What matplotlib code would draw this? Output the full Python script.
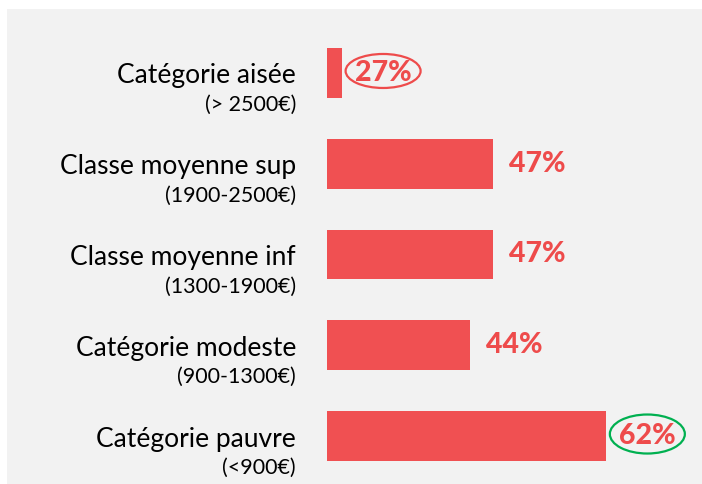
import matplotlib
matplotlib.use("Agg")
import matplotlib.pyplot as plt
from matplotlib.patches import Rectangle, Ellipse
from matplotlib.transforms import offset_copy

plt.rcParams['font.family'] = ['Lato', 'DejaVu Sans']

categories = ["Catégorie aisée", "Classe moyenne sup", "Classe moyenne inf",
              "Catégorie modeste", "Catégorie pauvre"]
income_ranges = ["(> 2500€)", "(1900-2500€)", "(1300-1900€)", "(900-1300€)", "(<900€)"]
values = [27, 47, 47, 44, 62]
circled = {0: "#EE4B4B", 4: "#00B050"}

bar_color = "#F05052"
text_red = "#EE4B4B"
bg = "#F2F2F2"

W, H = 702, 485
fig = plt.figure(figsize=(W / 100, H / 100), dpi=100)
fig.patch.set_facecolor("white")
fig.patches.append(Rectangle((7 / W, 0), 1 - 7 / W, 1 - 10 / H,
                             transform=fig.transFigure, facecolor=bg,
                             edgecolor="none", zorder=-10))

px_per_unit = 7.55
x0 = 25
ax_left, ax_right = 327, 700
ax_top, ax_bot = 28.6, 482.4
row_px = (ax_bot - ax_top) / len(values)
ax = fig.add_axes([ax_left / W, (H - ax_bot) / H, (ax_right - ax_left) / W,
                   (ax_bot - ax_top) / H])
ax.set_facecolor("none")
ax.set_xlim(x0, x0 + (ax_right - ax_left) / px_per_unit)
ax.set_ylim(len(values) - 0.5, -0.5)
ax.axis("off")

ypos = list(range(len(values)))
ax.barh(ypos, values, height=0.55, color=bar_color)

for i, (cat, rng, v) in enumerate(zip(categories, income_ranges, values)):
    ax.annotate(cat, xy=(x0, i), xytext=(-31, -2), textcoords="offset pixels",
                ha="right", va="center", fontsize=19, color="black",
                annotation_clip=False)
    ax.annotate(rng, xy=(x0, i), xytext=(-31, -31), textcoords="offset pixels",
                ha="right", va="center", fontsize=15.5, color="black",
                annotation_clip=False)
    if i in circled:
        # value label sits inside a hand-drawn style ellipse
        tr = offset_copy(ax.transData, fig=fig, x=41, y=2, units="dots")
        ax.add_patch(Ellipse((v, i), 75 / px_per_unit, (34 if i == 0 else 39) / row_px,
                             transform=tr, fc="none", ec=circled[i], lw=1.6,
                             clip_on=False))
        ax.annotate(f"{v}%", xy=(v, i), xytext=(41, 1), textcoords="offset pixels",
                    ha="center", va="center", fontsize=20.5, fontweight="black",
                    color=text_red, annotation_clip=False)
    else:
        ax.annotate(f"{v}%", xy=(v, i), xytext=(16, 1), textcoords="offset pixels",
                    ha="left", va="center", fontsize=20.5, fontweight="black",
                    color=text_red, annotation_clip=False)

fig.savefig("out.png", dpi=100)
